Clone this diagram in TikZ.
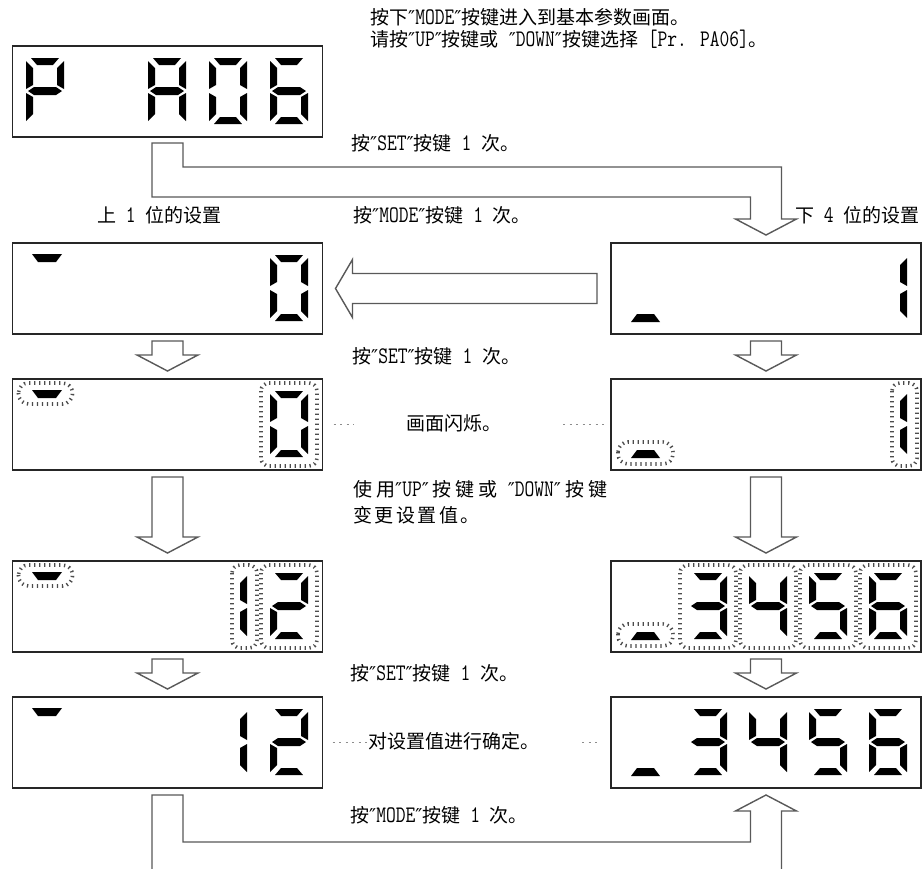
\documentclass[tikz,border=0pt]{standalone}
\usepackage{fontspec}
\setmainfont{Noto Sans CJK SC}
\newfontfamily\dvf{DejaVu Sans}
\newfontfamily\latf[Scale=1.25,FakeStretch=0.8]{Latin Modern Mono}
\usetikzlibrary{calc}
\newcommand\qq{{\dvf ″}}
\newcommand\tl[1]{{\latf #1}}
\newcommand\kk{\kern4pt}
\tikzset{
  segc/.style={fill=black},
  sg-a/.pic={\fill[segc] (5,0)--(33,0)--(27,7)--(11,7)--cycle;},
  sg-d/.pic={\fill[segc] (5,66)--(33,66)--(27,59)--(11,59)--cycle;},
  sg-f/.pic={\fill[segc] (0,3)--(7,10)--(7,27)--(0,31)--cycle;},
  sg-b/.pic={\fill[segc] (38,3)--(31,10)--(31,27)--(38,31)--cycle;},
  sg-e/.pic={\fill[segc] (0,35)--(7,39)--(7,56)--(0,63)--cycle;},
  sg-c/.pic={\fill[segc] (38,35)--(31,39)--(31,56)--(38,63)--cycle;},
  sg-g/.pic={\fill[segc] (2,33)--(8,29)--(30,29)--(36,33)--(30,37)--(8,37)--cycle;},
}
% digit: x, box top, segment list
\newcommand\digit[3]{\foreach \s in {#3}{\pic at (#1,#2+12) {sg-\s};}}
% rings
\newcommand\ringd[2]{\draw[ringst] (#1-9,#2+4) rectangle (#1+47,#2+87);}
\newcommand\ringone[2]{\draw[ringst] (#1+23,#2+4) rectangle (#1+48,#2+87);}
% dashes: top-left (left boxes) / bottom-left (right boxes); args: box left, box top
\newcommand\tdash[2]{\fill (#1+19.5,#2+11)--(#1+49.5,#2+11)--(#1+43.5,#2+19)--(#1+25.5,#2+19)--cycle;}
\newcommand\bdash[2]{\fill (#1+20,#2+79)--(#1+49,#2+79)--(#1+43,#2+71)--(#1+26,#2+71)--cycle;}
\newcommand\tring[2]{\draw[ringst,rounded corners=10pt] (#1+6,#2+4) rectangle (#1+60,#2+25);}
\newcommand\bring[2]{\draw[ringst,rounded corners=10pt] (#1+7,#2+63) rectangle (#1+62,#2+85);}
\newcommand\downarr[2]{%
  \draw[arr] let \p1=(#1.south), \p2=(#2.north) in
   (\x1-15.5pt,\y1-7pt) -- (\x1+15.5pt,\y1-7pt) -- (\x1+15.5pt,\y2+24pt)
   -- (\x1+30.5pt,\y2+24pt) -- (\x1,\y2+8pt) -- (\x1-30.5pt,\y2+24pt)
   -- (\x1-15.5pt,\y2+24pt) -- cycle;}
\begin{document}
\begin{tikzpicture}[x=1pt,y=-1pt,
  box/.style={draw=black!85,line width=1.8pt,minimum width=310pt,minimum height=91pt,inner sep=0pt,outer sep=0pt},
  arr/.style={draw=black!65,line width=1.4pt,fill=white,line join=miter},
  ringst/.style={draw=black!70,line width=3.6pt,dash pattern=on 1.3pt off 3.7pt,rounded corners=8pt},
  txt/.style={anchor=west,inner sep=0pt,text height=13pt,text depth=3pt,font=\fontsize{19}{21}\selectfont},
  lead/.style={draw=black!45,line width=1.6pt,dash pattern=on 2.2pt off 4.3pt}
]
\useasboundingbox (0,0) rectangle (923,868);
\clip (0,0) rectangle (923,868);
\fill[white] (0,0) rectangle (923,868);

% boxes
\node[box] (t)  at (167.5,91.5) {};
\node[box] (l2) at (167.5,288.5) {};
\node[box] (r2) at (766,288.5) {};
\node[box] (l3) at (167.5,424.5) {};
\node[box] (r3) at (766,424.5) {};
\node[box] (l4) at (167.5,606.5) {};
\node[box] (r4) at (766,606.5) {};
\node[box] (l5) at (167.5,742.5) {};
\node[box] (r5) at (766,742.5) {};

% top box: P  A06
\digit{26}{46}{a,b,f,g,e}
\digit{148}{46}{a,b,c,e,f,g}
\digit{209}{46}{a,b,c,d,e,f}
\digit{270}{46}{a,c,d,e,f,g}

% row 2
\tdash{12.5}{243}
\digit{270}{243}{a,b,c,d,e,f}
\bdash{611}{243}
\digit{869}{243}{b,c}

% row 3
\tdash{12.5}{379}\tring{12.5}{379}
\digit{270}{379}{a,b,c,d,e,f}\ringd{270}{379}
\bdash{611}{379}\bring{611}{379}
\digit{869}{379}{b,c}\ringone{869}{379}

% row 4
\tdash{12.5}{561}\tring{12.5}{561}
\digit{209}{561}{b,c}\ringone{209}{561}
\digit{270}{561}{a,b,g,e,d}\ringd{270}{561}
\bdash{611}{561}\bring{611}{561}
\digit{689}{561}{a,b,g,c,d}\ringd{689}{561}
\digit{749}{561}{f,g,b,c}\ringd{749}{561}
\digit{809}{561}{a,f,g,c,d}\ringd{809}{561}
\digit{869}{561}{a,c,d,e,f,g}\ringd{869}{561}

% row 5
\tdash{12.5}{697}
\digit{209}{697}{b,c}
\digit{270}{697}{a,b,g,e,d}
\bdash{611}{697}
\digit{689}{697}{a,b,g,c,d}
\digit{749}{697}{f,g,b,c}
\digit{809}{697}{a,f,g,c,d}
\digit{869}{697}{a,c,d,e,f,g}

% top elbow arrow
\draw[arr] let \p1=(t.south), \p2=(r2.north) in
  (\x1-15.5pt,\y1-6pt) -- (\x1-15.5pt,\y1-60pt) -- (\x2-15.5pt,\y1-60pt)
  -- (\x2-15.5pt,\y2+24pt) -- (\x2-30.5pt,\y2+24pt) -- (\x2,\y2+8pt)
  -- (\x2+30.5pt,\y2+24pt) -- (\x2+15.5pt,\y2+24pt) -- (\x2+15.5pt,\y1-30pt)
  -- (\x1+15.5pt,\y1-30pt) -- (\x1+15.5pt,\y1-6pt) -- cycle;

% big left arrow
\draw[arr] let \p1=(r2.west), \p2=(l2.east) in
  (\x1-14pt,\y1+15pt) -- (\x1-14pt,\y1-15pt) -- (\x2+30pt,\y1-15pt)
  -- (\x2+30pt,\y1-29pt) -- (\x2+13pt,\y1) -- (\x2+30pt,\y1+29pt)
  -- (\x2+30pt,\y1+15pt) -- cycle;

% down arrows
\downarr{l2}{l3}
\downarr{r2}{r3}
\downarr{l3}{l4}
\downarr{r3}{r4}
\downarr{l4}{l5}
\downarr{r4}{r5}

% bottom elbow arrow
\draw[arr,fill=none] let \p1=(l5.south), \p2=(r5.south) in
  (\x1-15.5pt,-900pt) -- (\x1-15.5pt,\y1-7pt) -- (\x1+15.5pt,\y1-7pt)
  -- (\x1+15.5pt,\y1-54pt) -- (\x2-15.5pt,\y1-54pt) -- (\x2-15.5pt,\y2-23pt)
  -- (\x2-30.5pt,\y2-23pt) -- (\x2,\y2-7pt) -- (\x2+30.5pt,\y2-23pt)
  -- (\x2+15.5pt,\y2-23pt) -- (\x2+15.5pt,-900pt);

% leaders
\draw[lead] ($(l3.east)+(11,0)$) -- ++(20,0);
\draw[lead] ($(r3.west)+(-48,0)$) -- ++(41,0);
\draw[lead] ($(l5.east)+(10,0)$) -- ++(34,0);
\draw[lead] ($(r5.west)+(-29,0)$) -- ++(19,0);

% texts
\node[txt] (x1) at (370,19) {按下\qq\tl{MODE}\qq 按键进入到基本参数画面。};
\node[txt] (x2) at (370,41) {请按\qq\tl{UP}\qq 按键或\tl{ }\qq\tl{DOWN}\qq 按键选择\tl{ [Pr. PA06]}。};
\node[txt] (x3) at (351,145) {按\qq\tl{SET}\qq 按键\tl{ 1 }次。};
\node[txt] (x4) at (97,217) {上\tl{ 1 }位的设置};
\node[txt] (x5) at (353,217) {按\qq\tl{MODE}\qq 按键\tl{ 1 }次。};
\node[txt] (x6) at (795,217) {下\tl{ 4 }位的设置};
\node[txt] (x7) at (352,358) {按\qq\tl{SET}\qq 按键\tl{ 1 }次。};
\node[txt] (x8) at (406,425) {画面闪烁。};
\node[txt] (x9) at (353,491) {使\kk 用\qq\tl{UP}\qq\kk 按\kk 键\kk 或\tl{ }\qq\tl{DOWN}\qq\kk 按\kk 键};
\node[txt] (x10) at (353,517) {变\kern2.5pt 更\kern2.5pt 设\kern2.5pt 置\kern2.5pt 值\kern2.5pt 。};
\node[txt] (x11) at (350,675) {按\qq\tl{SET}\qq 按键\tl{ 1 }次。};
\node[txt] (x12) at (368,743) {对设置值进行确定。};
\node[txt] (x13) at (350,817) {按\qq\tl{MODE}\qq 按键\tl{ 1 }次。};
\end{tikzpicture}
\end{document}
